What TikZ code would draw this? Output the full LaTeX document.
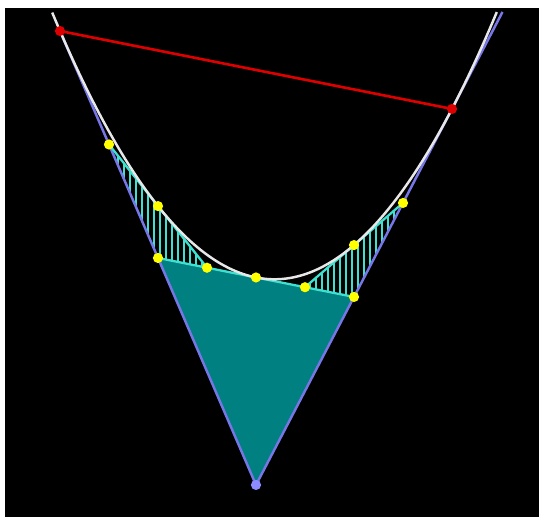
\documentclass[tikz,border=0pt]{standalone}
\usetikzlibrary{calc}
\definecolor{bgblack}{RGB}{0,0,0}
\definecolor{tealfill}{RGB}{0,128,128}
\definecolor{cyanline}{RGB}{64,224,208}
\definecolor{tanblue}{RGB}{118,118,230}
\definecolor{chordred}{RGB}{220,0,0}
\definecolor{dotyellow}{RGB}{255,255,0}
\definecolor{apexblue}{RGB}{140,140,255}
\definecolor{curvewhite}{RGB}{232,232,232}
\tikzset{
  tangentline/.style={draw=tanblue, line width=1.4pt},
  cyanedge/.style={draw=cyanline, line width=1.3pt},
  hatchline/.style={draw=cyanline, line width=0.8pt},
  curveline/.style={draw=curvewhite, line width=1.4pt},
  chordline/.style={draw=chordred, line width=1.5pt},
  ydot/.style={fill=dotyellow},
  rdot/.style={fill=chordred},
  bdot/.style={fill=apexblue}
}
\begin{document}
\begin{tikzpicture}[x=0.02cm,y=-0.02cm]
\useasboundingbox (0,0) rectangle (539,517);
\fill[white] (0,0) rectangle (539,517);
\fill[bgblack] (5,8) rectangle (539,517);
% key points
\coordinate (A) at (60,31.0);
\coordinate (B) at (452,108.93);
\coordinate (C) at (256,277.47);
\coordinate (P) at (256,484.96);
\coordinate (D) at (158,257.98);
\coordinate (E) at (354,296.95);
\coordinate (F) at (158,206.12);
\coordinate (G) at (354,245.08);
\coordinate (Q1) at (109,144.49);
\coordinate (R1) at (207,267.73);
\coordinate (R2) at (305,287.21);
\coordinate (Q2) at (403,202.94);
\coordinate (Ttop) at (502.5,12);
% teal triangle
\fill[tealfill] (P) -- (D) -- (E) -- cycle;
% hatching
\begin{scope}
\clip (Q1) -- (D) -- (R1) -- cycle;
\foreach \hx in {100,106,...,220} {\draw[hatchline] (\hx,130) -- (\hx,280);}
\end{scope}
\begin{scope}
\clip (R2) -- (E) -- (Q2) -- cycle;
\foreach \hx in {298,304,...,412} {\draw[hatchline] (\hx,190) -- (\hx,300);}
\end{scope}
% tangent lines
\draw[tangentline] (A) -- (P) -- (Ttop);
% cyan edges
\draw[cyanedge] (D) -- (E);
\draw[cyanedge] (Q1) -- (R1);
\draw[cyanedge] (R2) -- (Q2);
% parabola
\draw[curveline] plot[domain=52.2:496.8, samples=120] (\x, {279.3-(0.073494*(\x-274.4))^2});
% chord
\draw[chordline] (A) -- (B);
% dots
\foreach \p in {Q1,F,D,R1,C,R2,E,G,Q2} {\fill[ydot] (\p) circle[radius=2.9pt];}
\fill[rdot] (A) circle[radius=2.9pt];
\fill[rdot] (B) circle[radius=2.9pt];
\fill[bdot] (P) circle[radius=2.9pt];
\end{tikzpicture}
\end{document}
